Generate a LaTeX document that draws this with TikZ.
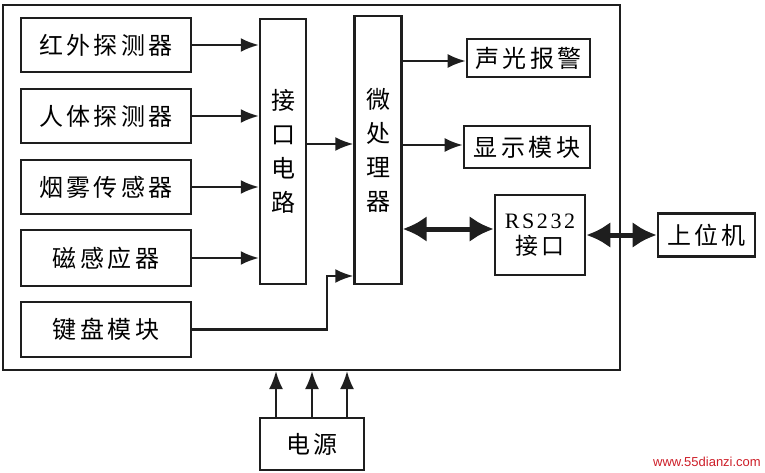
\documentclass[tikz,border=0pt]{standalone}
\usepackage{fontspec}
\setmainfont{Noto Sans CJK SC}[LetterSpace=14]
\newfontfamily\cjknarrow{Noto Sans CJK SC}
\newfontfamily\latinserif{Liberation Serif}[LetterSpace=12]
\newfontfamily\wmfont{Liberation Sans}
\usetikzlibrary{arrows.meta,calc}
\definecolor{ink}{RGB}{30,30,30}
\definecolor{wmred}{RGB}{205,30,40}
\tikzset{
  blk/.style={draw=ink,line width=2.6pt,minimum width=170pt,minimum height=54pt,inner sep=0pt,font=\fontsize{24}{28}\selectfont},
  vblk/.style={draw=ink,line width=2.4pt,inner sep=0pt,align=center,font=\cjknarrow\fontsize{24}{34}\selectfont},
  rblk/.style={draw=ink,line width=2.6pt,inner sep=0pt,font=\fontsize{24}{30}\selectfont},
  arr/.style={draw=ink,line width=2.2pt,-{Latex[length=18pt,width=14pt]}},
  darr/.style={draw=ink,line width=5pt,{Latex[length=24pt,width=26pt]}-{Latex[length=24pt,width=26pt]}},
}
\begin{document}
\begin{tikzpicture}[x=1pt,y=-1pt]
\useasboundingbox (0,0) rectangle (765,473);
\node[draw=ink,line width=2pt,minimum width=617pt,minimum height=365pt,inner sep=0pt] (outer) at (311.5,187.5) {};
\node[blk] (ir) at (106,45) {红外探测器};
\node[blk] (body) at (106,116) {人体探测器};
\node[blk] (smoke) at (106,187) {烟雾传感器};
\node[blk,minimum height=56pt] (mag) at (106,258) {磁感应器};
\node[blk,minimum height=55pt] (key) at (106,329.5) {键盘模块};
\node[vblk,minimum width=46pt,minimum height=265pt] (jk) at (283,151.5) {接\\口\\电\\路};
\node[vblk,minimum width=47pt,minimum height=268pt] (cpu) at (378,150) {微\\处\\理\\器};
\node[rblk,minimum width=123pt,minimum height=38pt] (alarm) at (528.5,58) {声光报警};
\node[rblk,minimum width=126pt,minimum height=42pt] (disp) at (527,147) {显示模块};
\node[draw=ink,line width=2.6pt,minimum width=90pt,minimum height=80pt,inner sep=0pt,align=center] (rs) at (540,235)
  {{\latinserif\fontsize{22}{26}\selectfont RS232}\\[6pt]{\fontsize{23}{26}\selectfont 接口}};
\node[rblk,minimum width=97pt,minimum height=43pt] (host) at (706.5,235) {上位机};
\node[rblk,minimum width=104pt,minimum height=52pt] (pwr) at (312,444) {电源};
\coordinate (kbc) at (327,276);
\coordinate (p1) at (276,418);
\coordinate (p2) at (312,418);
\coordinate (p3) at (347,418);
% sensors to interface
\draw[arr] (ir.east) -- (ir.east -| jk.west);
\draw[arr] (body.east) -- (body.east -| jk.west);
\draw[arr] (smoke.east) -- (smoke.east -| jk.west);
\draw[arr] (mag.east) -- (mag.east -| jk.west);
% interface to cpu
\draw[arr] (jk.east |- 0,144) -- (cpu.west |- 0,144);
% keyboard to cpu
\draw[arr] (key.east) -- (kbc |- key.east) -- (kbc) -- (cpu.west |- kbc);
% cpu outputs
\draw[arr] (cpu.east |- 0,61) -- (alarm.west |- 0,61);
\draw[arr] (cpu.east |- 0,145) -- (disp.west |- 0,145);
\draw[darr] (cpu.east |- 0,229) -- (rs.west |- 0,229);
\draw[darr] (rs.east) -- (host.west);
% power
\draw[arr] (p1) -- (p1 |- outer.south);
\draw[arr] (p2) -- (p2 |- outer.south);
\draw[arr] (p3) -- (p3 |- outer.south);
% watermark
\node[text=wmred,font=\wmfont\fontsize{13}{14}\selectfont,anchor=east,inner sep=0pt] (wm) at (761,462) {www.55dianzi.com};
\end{tikzpicture}
\end{document}
